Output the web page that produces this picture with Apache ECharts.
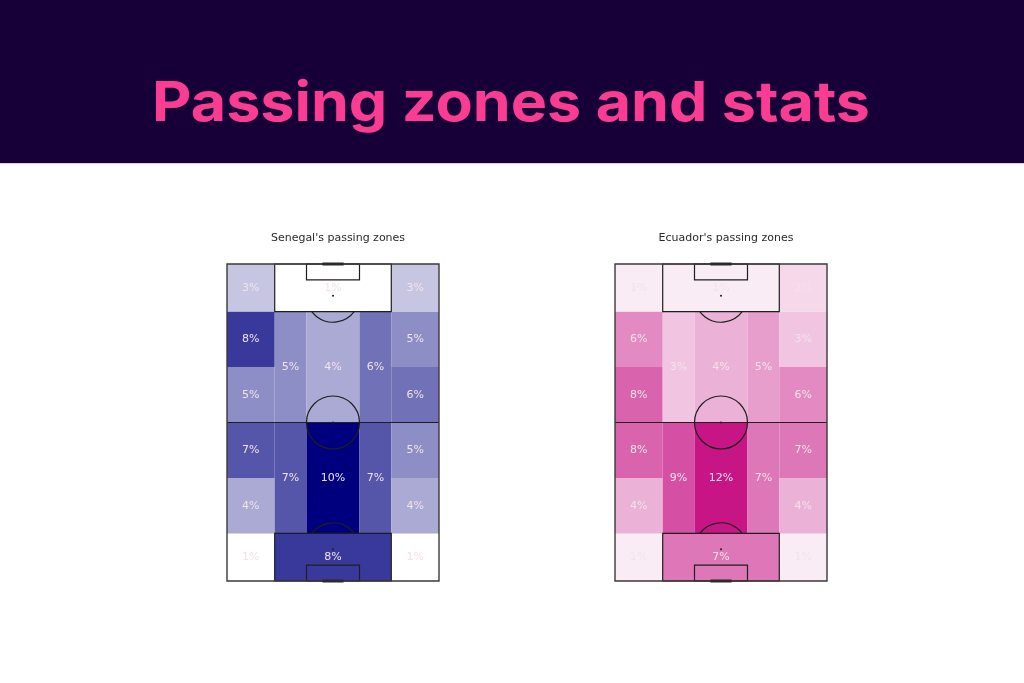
<!DOCTYPE html>
<html>
<head>
<meta charset="utf-8">
<script src="https://cdn.jsdelivr.net/npm/echarts@6/dist/echarts.min.js"></script>
<style>
  html, body { margin: 0; padding: 0; background: #ffffff; }
  #chart { width: 1024px; height: 683px; }
</style>
</head>
<body>
<div id="chart"></div>
<script>
// ---- Data ----
const mainTitle = 'Passing zones and stats';
const teamTitles = ["Senegal's passing zones", "Ecuador's passing zones"];

// Positional zones (StatsBomb pitch units, 80 wide x 120 long, attacking upward)
const zoneNames = [
  'Own box left corner', 'Own box', 'Own box right corner',
  'Left wing 1', 'Left wing 2', 'Left wing 3', 'Left wing 4',
  'Left half-space low', 'Left half-space high',
  'Centre low', 'Centre high',
  'Right half-space low', 'Right half-space high',
  'Right wing 1', 'Right wing 2', 'Right wing 3', 'Right wing 4',
  'Opp box left corner', 'Opp box', 'Opp box right corner'
];
const zoneX0 = [0, 18, 62,  0, 0, 0, 0,  18, 18,  30, 30,  50, 50,  62, 62, 62, 62,  0, 18, 62];
const zoneX1 = [18, 62, 80, 18, 18, 18, 18, 30, 30, 50, 50, 62, 62, 80, 80, 80, 80, 18, 62, 80];
const zoneY0 = [0, 0, 0,  18, 39, 60, 81,  18, 60,  18, 60,  18, 60,  18, 39, 60, 81,  102, 102, 102];
const zoneY1 = [18, 18, 18, 39, 60, 81, 102, 60, 102, 60, 102, 60, 102, 39, 60, 81, 102, 120, 120, 120];

// Share of passes per zone (%)
const senegalPct = [1, 8, 1,  4, 7, 5, 8,  7, 5,  10, 4,  7, 6,  4, 5, 6, 5,  3, 1, 3];
const ecuadorPct = [1, 7, 1,  4, 8, 8, 6,  9, 3,  12, 4,  7, 5,  4, 7, 6, 3,  1, 1, 2];

// Colour scale bounds (%)
const scaleMin = [1, 0];
const scaleMax = [10, 12];

// ---- Styles ----
const BANNER = '#170038';
const TITLE_PINK = '#fb3c93';
const LABEL_COLOR = '#f2e2ea';
const LINE_COLOR = '#1e1e1e';
const PITCH_L = 120, PITCH_W = 80;

function zoneData(vals) {
  return vals.map((v, i) => ({
    name: zoneNames[i],
    value: [zoneX0[i], zoneX1[i], zoneY0[i], zoneY1[i], v]
  }));
}

function renderZone(params, api) {
  const p0 = api.coord([api.value(0), api.value(3)]);
  const p1 = api.coord([api.value(1), api.value(2)]);
  return {
    type: 'group',
    children: [
      { type: 'rect',
        shape: { x: p0[0], y: p0[1], width: p1[0] - p0[0], height: p1[1] - p0[1] },
        style: { fill: api.visual('color'), stroke: null } },
      { type: 'text', z2: 10,
        style: { text: api.value(4) + '%', x: (p0[0] + p1[0]) / 2, y: (p0[1] + p1[1]) / 2,
                 align: 'center', verticalAlign: 'middle', fill: LABEL_COLOR,
                 font: '11px "DejaVu Sans"' } }
    ]
  };
}

function renderPitch(params, api) {
  const c = (x, y) => api.coord([x, y]);
  const s = { stroke: LINE_COLOR, lineWidth: 1.2, fill: null };
  const rectShape = (x0, y0, x1, y1) => {
    const a = c(x0, y1), b = c(x1, y0);
    return { x: a[0], y: a[1], width: b[0] - a[0], height: b[1] - a[1] };
  };
  const r10 = api.size([10, 0])[0];
  const half = c(0, PITCH_L / 2), half2 = c(PITCH_W, PITCH_L / 2);
  const centre = c(PITCH_W / 2, PITCH_L / 2);
  const spotTop = c(PITCH_W / 2, PITCH_L - 12);
  const spotBot = c(PITCH_W / 2, 12);
  const ang = Math.acos(6 / 10);
  const gT0 = c(36, PITCH_L), gT1 = c(44, PITCH_L);
  const gB0 = c(36, 0), gB1 = c(44, 0);
  return {
    type: 'group',
    children: [
      { type: 'rect', shape: rectShape(18, 0, 62, 18), style: s },
      { type: 'rect', shape: rectShape(18, PITCH_L - 18, 62, PITCH_L), style: s },
      { type: 'rect', shape: rectShape(30, 0, 50, 6), style: s },
      { type: 'rect', shape: rectShape(30, PITCH_L - 6, 50, PITCH_L), style: s },
      { type: 'line', shape: { x1: half[0], y1: half[1], x2: half2[0], y2: half2[1] }, style: s },
      { type: 'circle', shape: { cx: centre[0], cy: centre[1], r: r10 }, style: s },
      { type: 'circle', shape: { cx: centre[0], cy: centre[1], r: 1 }, style: { fill: LINE_COLOR } },
      { type: 'circle', shape: { cx: spotTop[0], cy: spotTop[1], r: 1 }, style: { fill: LINE_COLOR } },
      { type: 'circle', shape: { cx: spotBot[0], cy: spotBot[1], r: 1 }, style: { fill: LINE_COLOR } },
      { type: 'arc', shape: { cx: spotTop[0], cy: spotTop[1], r: r10,
          startAngle: Math.PI / 2 - ang, endAngle: Math.PI / 2 + ang, clockwise: true }, style: s },
      { type: 'arc', shape: { cx: spotBot[0], cy: spotBot[1], r: r10,
          startAngle: -Math.PI / 2 - ang, endAngle: -Math.PI / 2 + ang, clockwise: true }, style: s },
      { type: 'rect', shape: rectShape(0, 0, PITCH_W, PITCH_L), style: { stroke: '#3a3a3a', lineWidth: 1.4, fill: null } },
      { type: 'line', shape: { x1: gT0[0], y1: gT0[1], x2: gT1[0], y2: gT1[1] }, style: { stroke: '#2a2a2a', lineWidth: 3 } },
      { type: 'line', shape: { x1: gB0[0], y1: gB0[1], x2: gB1[0], y2: gB1[1] }, style: { stroke: '#2a2a2a', lineWidth: 3 } }
    ]
  };
}

const grids = [
  { left: 227, top: 264, width: 212, height: 317 },
  { left: 615, top: 264, width: 212, height: 317 }
];
const teams = [senegalPct, ecuadorPct];
const ramps = [['#ffffff', '#00007f'], ['#ffffff', '#c71585']];

const chart = echarts.init(document.getElementById('chart'), null, { renderer: 'canvas' });
const option = {
  backgroundColor: '#ffffff',
  animation: false,
  grid: grids,
  xAxis: grids.map((g, i) => ({ type: 'value', gridIndex: i, min: 0, max: PITCH_W, show: false })),
  yAxis: grids.map((g, i) => ({ type: 'value', gridIndex: i, min: 0, max: PITCH_L, show: false })),
  title: teamTitles.map((t, i) => ({
    text: t, left: grids[i].left + grids[i].width / 2, top: 228, textAlign: 'center',
    textStyle: { fontFamily: 'DejaVu Sans', fontSize: 11, fontWeight: 'normal', color: '#2a2a2a' }
  })),
  visualMap: teams.map((vals, i) => ({
    type: 'continuous', show: false, seriesIndex: i * 2, dimension: 4,
    min: scaleMin[i], max: scaleMax[i],
    inRange: { color: ramps[i] }
  })),
  series: teams.flatMap((vals, i) => ([
    { type: 'custom', name: teamTitles[i], xAxisIndex: i, yAxisIndex: i,
      renderItem: renderZone, data: zoneData(vals), z: 2, silent: true },
    { type: 'custom', name: 'pitch' + i, xAxisIndex: i, yAxisIndex: i,
      renderItem: renderPitch, data: [[PITCH_W / 2, PITCH_L / 2]], z: 5, silent: true }
  ])),
  graphic: [
    { type: 'rect', left: 0, top: 0, shape: { width: 1024, height: 163 }, style: { fill: BANNER }, z: 0 },
    { type: 'rect', left: 0, top: 163, shape: { width: 1024, height: 1 }, style: { fill: '#d9cfe6' }, z: 0 },
    { type: 'text', x: 511, y: 104, scaleX: 1.108, z: 1,
      style: { text: mainTitle, align: 'center', verticalAlign: 'middle',
               fill: TITLE_PINK, font: '700 55px Inter' } }
  ]
};
chart.setOption(option);
</script>
</body>
</html>
